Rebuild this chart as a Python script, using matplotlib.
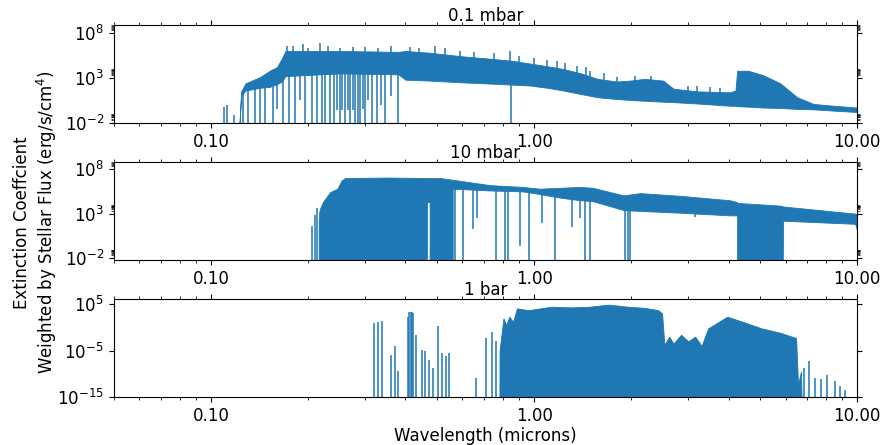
import numpy as np
import matplotlib
matplotlib.use("Agg")
import matplotlib.pyplot as plt
from matplotlib.ticker import (FixedLocator, FormatStrFormatter, NullFormatter,
                               NullLocator, LogFormatterSciNotation)

BLUE = '#1f77b4'

# values are log10 of the weighted extinction coefficient
# -30 means "down off the bottom of the axis"

# ---- 0.1 mbar ----
p1_wl = [0.1225, 0.124, 0.128, 0.142, 0.152, 0.160, 0.166, 0.170,
         0.25, 0.38, 0.40, 0.476, 0.603, 0.70, 0.86, 0.972,
         1.10, 1.23, 1.40, 1.57, 1.80, 1.98, 2.2, 2.51,
         2.7, 3.2, 4.04, 4.2, 4.25, 4.6, 5.12, 5.78,
         6.52, 7.33, 8.5, 10.0]
p1_hi = [-2.3, 1.5, 2.4, 3.1, 3.8, 4.2, 5.2, 6.0,
         6.0, 5.9, 6.0, 5.8, 5.4, 5.2, 4.9, 4.6,
         4.3, 4.0, 3.5, 2.9, 2.6, 2.7, 2.9, 2.7,
         1.8, 1.5, 1.4, 1.6, 3.8, 3.8, 3.3, 2.4,
         0.85, 0.1, -0.1, -0.3]
p1_lo = [-2.3, 1.0, 1.6, 1.9, 2.0, 2.3, 2.6, 3.2,
         3.5, 3.4, 2.8, 2.7, 2.5, 2.4, 2.25, 2.15,
         1.9, 1.6, 1.2, 0.85, 0.65, 0.55, 0.45, 0.35,
         0.3, 0.15, -0.1, -0.1, -0.15, -0.2, -0.3, -0.35,
         -0.45, -0.5, -0.65, -0.8]
# absorption dips hanging below the band
p1_dip_wl = [0.110, 0.112, 0.118, 0.1256, 0.130, 0.1368, 0.142, 0.147,
             0.1556, 0.160, 0.167, 0.175, 0.182, 0.188, 0.1955, 0.205,
             0.213, 0.220, 0.2254, 0.2336, 0.240, 0.245, 0.2508, 0.255,
             0.260, 0.265, 0.2694, 0.275, 0.280, 0.285, 0.289, 0.295,
             0.2998, 0.307, 0.315, 0.3268, 0.335, 0.3458, 0.360, 0.3793,
             0.849]
p1_dip_lo = [-30, -30, -30, -30, -30, -30, -30, -30,
             -30, -0.5, -30, -30, -30, 0.5, -30, -30,
             -30, -30, -30, -30, -30, -0.6, -30, -0.6,
             -30, -0.6, -30, -0.6, -30, -30, -30, -0.5,
             -30, 0.5, -30, -30, 0.0, -30, 1.0, -30,
             -30]
p1_dip_hi = [-0.2, 0.0, -1.1, 1.5, 1.8, 2.0, 2.0, 2.2,
             2.3, 2.4, 3.0, 3.5, 3.5, 3.5, 3.5, 3.5,
             3.5, 3.5, 3.5, 3.5, 3.5, 3.5, 3.5, 3.5,
             3.5, 3.5, 3.5, 3.5, 3.5, 3.5, 3.5, 3.5,
             3.5, 3.5, 3.5, 3.5, 3.5, 3.5, 3.5, 3.5,
             2.5]
# spikes sticking out above the band
p1_spike_wl = [0.172, 0.18, 0.193, 0.20, 0.218, 0.23, 0.25, 0.275,
               0.30, 0.33, 0.36, 0.413, 0.44, 0.494, 0.53, 0.59,
               0.65, 0.75, 0.843, 0.90, 1.0, 1.1, 1.18, 1.25,
               1.36, 1.45, 1.49, 1.65, 1.81, 2.05, 2.3, 3.0,
               3.2, 3.5, 3.77]
p1_spike_lo = [5.5, 5.5, 5.5, 5.5, 5.5, 5.5, 5.5, 5.5,
               5.5, 5.5, 5.5, 5.5, 5.5, 5.5, 5.5, 5.0,
               5.0, 4.8, 4.5, 4.5, 4.2, 4.0, 4.0, 3.8,
               3.3, 3.0, 3.0, 2.5, 2.4, 2.5, 2.5, 1.3,
               1.3, 1.3, 1.3]
p1_spike_hi = [6.6, 6.5, 6.8, 6.3, 6.9, 6.5, 6.3, 6.4,
               6.4, 6.3, 6.5, 6.4, 6.3, 6.6, 6.3, 6.05,
               5.9, 5.8, 6.0, 5.4, 5.2, 5.0, 4.9, 4.7,
               4.35, 4.2, 3.8, 3.6, 3.1, 3.2, 3.2, 2.1,
               2.15, 2.0, 1.9]

# ---- 10 mbar ----
p2_wl = [0.2155, 0.216, 0.2178, 0.222, 0.2336, 0.246, 0.254, 0.2606,
         0.35, 0.466, 0.4661, 0.475, 0.4751, 0.512, 0.56, 0.5601,
         0.73, 0.92, 1.04, 1.2, 1.39, 1.52, 1.89, 2.13,
         2.83, 4.04, 4.2499, 4.25, 5.78, 5.9, 9.86, 10.0]
p2_hi = [2.0, 3.0, 3.6, 4.3, 5.4, 5.8, 6.75, 7.0,
         7.05, 7.0, 7.0, 7.0, 7.0, 7.0, 6.8, 6.8,
         6.2, 6.0, 5.8, 5.9, 6.0, 5.9, 5.05, 5.3,
         5.0, 4.5, 4.3, 4.2, 3.9, 3.8, 3.0, 2.9]
p2_lo = [-30, -30, -30, -30, -30, -30, -30, -30,
         -30, -30, 4.3, 4.3, -30, -30, -30, 5.8,
         5.6, 5.5, 5.2, 4.8, 4.5, 4.4, 3.4, 3.3,
         3.1, 2.8, 2.8, -30, -30, 2.2, 1.85, 1.0]
p2_dip_wl = [0.2055, 0.2096, 0.213, 0.57, 0.603, 0.647, 0.666, 0.763,
             0.813, 0.831, 0.905, 0.965, 1.06, 1.16, 1.31, 1.39,
             1.44, 1.49, 1.91, 1.95, 1.98, 3.15]
p2_dip_lo = [-30, -30, -30, -30, -30, 1.3, 2.5, -30,
             -30, -30, -0.6, -30, 2.0, -30, 1.5, 2.5,
             -30, -30, -30, -30, -30, 2.6]
p2_dip_hi = [1.6, 2.8, 3.6, 6.0, 6.0, 6.0, 6.0, 5.8,
             5.8, 5.8, 5.6, 5.6, 5.4, 5.3, 5.0, 4.8,
             4.7, 4.6, 3.6, 3.6, 3.6, 3.2]

# ---- 1 bar ----
p3_wl = [0.78, 0.782, 0.804, 0.82, 0.838, 0.861, 0.885, 0.96,
         1.131, 1.30, 1.484, 1.70, 1.95, 2.2, 2.42, 2.49,
         2.53, 2.62, 2.70, 2.85, 3.0, 3.15, 3.3, 3.4,
         3.46, 3.96, 4.42, 5.05, 5.80, 6.47, 6.56, 6.7, 6.8]
p3_hi = [-30, -5.0, 1.95, 0.5, 2.3, 1.2, 4.1, 3.7,
         4.45, 4.3, 4.45, 4.9, 4.45, 4.2, 3.7, 3.0,
         -3.75, -2.0, -3.5, -1.6, -3.0, -2.0, -4.0, -1.5,
         -0.2, 2.3, 1.2, -0.2, -1.2, -2.3, -12.3, -9.5, -30]
p3_dip_wl = [0.320, 0.330, 0.339, 0.360, 0.3717, 0.380, 0.407, 0.410,
             0.4147, 0.418, 0.4214, 0.4297, 0.450, 0.460, 0.4727, 0.4858,
             0.503, 0.520, 0.534, 0.5448, 0.659, 0.711, 0.741, 0.762,
             6.82, 7.1, 7.4, 7.71, 8.04, 8.51, 8.87, 9.19]
p3_dip_hi = [0.87, 1.2, 1.37, -5.9, -4.1, -9.45, 2.3, 3.2,
             3.4, 3.3, 3.0, -1.6, -4.8, -5.2, -7.0, -8.75,
             0.2, -5.5, -6.25, -5.5, -10.9, -2.3, -0.9, -3.0,
             -8.75, -7.3, -10.9, -11.2, -10.2, -11.6, -12.6, -13.4]

titles = ['0.1 mbar', '10 mbar', '1 bar']
ylims = [(1e-2, 10**8.9), (10**-2.2, 10**8.8), (1e-15, 10**6.1)]
yticks = [[1e-2, 1e3, 1e8], [1e-2, 1e3, 1e8], [1e-15, 1e-5, 1e5]]


def lg(v):
    return 10.0 ** np.array(v, dtype=float)


plt.rcParams['font.size'] = 12
fig, axes = plt.subplots(3, 1, figsize=(8.81, 4.45), dpi=100)
fig.subplots_adjust(left=0.129, right=0.973, top=0.944, bottom=0.108, hspace=0.4)

bands = [(p1_wl, p1_lo, p1_hi), (p2_wl, p2_lo, p2_hi),
         (p3_wl, [-30] * len(p3_wl), p3_hi)]
lines = [[(p1_dip_wl, p1_dip_lo, p1_dip_hi), (p1_spike_wl, p1_spike_lo, p1_spike_hi)],
         [(p2_dip_wl, p2_dip_lo, p2_dip_hi)],
         [(p3_dip_wl, [-30] * len(p3_dip_wl), p3_dip_hi)]]

for i, ax in enumerate(axes):
    wl, lo, hi = bands[i]
    ax.fill_between(wl, lg(lo), lg(hi), color=BLUE, lw=0.6, edgecolor=BLUE)
    for lwl, llo, lhi in lines[i]:
        ax.vlines(lwl, lg(llo), lg(lhi), color=BLUE, lw=1.3, alpha=0.85)

    ax.set_xscale('log')
    ax.set_yscale('log')
    ax.set_xlim(0.05, 10)
    ax.set_ylim(*ylims[i])
    ax.set_title(titles[i], fontsize=12, pad=2)

    ax.xaxis.set_major_formatter(FormatStrFormatter('%.2f'))
    ax.xaxis.set_minor_formatter(NullFormatter())
    ax.yaxis.set_major_locator(FixedLocator(yticks[i]))
    ax.yaxis.set_major_formatter(LogFormatterSciNotation())
    if i < 2:
        minors = [k * t for t in yticks[i] for k in range(2, 10)]
        ax.yaxis.set_minor_locator(FixedLocator(minors))
    else:
        ax.yaxis.set_minor_locator(NullLocator())
    ax.yaxis.set_minor_formatter(NullFormatter())
    ax.tick_params(which='both', direction='out', top=True, right=True)
    ax.tick_params(axis='y', which='minor', width=0.5, length=2)

axes[2].set_xlabel('Wavelength (microns)', fontsize=12, labelpad=2)
fig.text(0.041, 0.5, 'Extinction Coeffcient\nWeighted by Stellar Flux (erg/s/cm$^4$)',
         rotation=90, ha='center', va='center', fontsize=12)

fig.savefig('out.png', dpi=100)
